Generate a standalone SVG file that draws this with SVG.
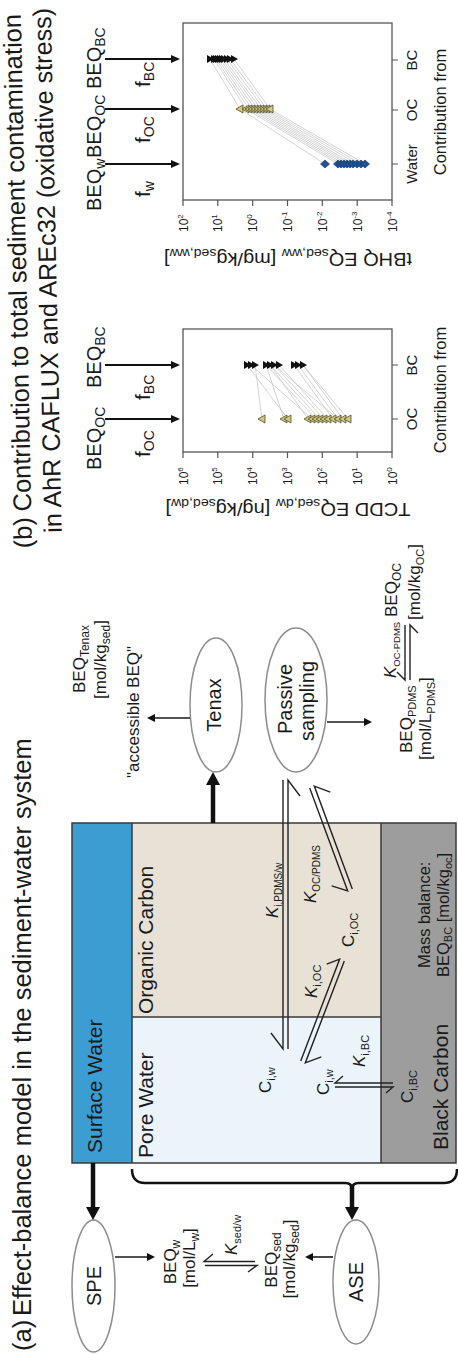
<svg xmlns="http://www.w3.org/2000/svg" width="458" height="1354" viewBox="0 0 458 1354">
<style>
text{font-family:"Liberation Sans",Arial,sans-serif;fill:#1a1a1a}
.ttl{font-size:25.5px}
.lbl{font-size:21px}
.an{font-size:17px}
.tk{font-size:12px}
.it{font-style:italic}
.thin{stroke:#1a1a1a;stroke-width:1.6;fill:none}
.thick{stroke:#111;stroke-width:4.5;fill:none}
.pa{stroke:#111;stroke-width:2;fill:none}
.hp{stroke:#222;stroke-width:1.4;fill:none}
.ell{fill:#fff;stroke:#8c8c8c;stroke-width:1.5}
.frame{fill:#fff;stroke:#555;stroke-width:1.3}
.tick{stroke:#555;stroke-width:1.2}
.gl{stroke:#c2c2c2;stroke-width:0.7;fill:none}
.hd{fill:#111}
.bd{stroke:#3a3a3a;stroke-width:1.5;fill:none}
</style>
<defs>
<path id="dm" d="M0,-4.5 L4,0 L0,4.5 L-4,0 Z" fill="#1f5394" stroke="#0f2f5a" stroke-width="0.6"/>
<path id="tu" d="M0,-4 L4,3 L-4,3 Z" fill="#d3c97c" stroke="#3b3a22" stroke-width="0.7"/>
<path id="td" d="M0,4 L4,-3 L-4,-3 Z" fill="#111"/>
</defs>
<g transform="translate(0,1354) rotate(-90)">

<g id="title-a">
<text class="ttl" x="3" y="31">(a)</text>
<text class="ttl" x="38" y="31">Effect-balance model in the sediment-water system</text>
</g>

<g id="box">
<rect x="191" y="72" width="340" height="60" fill="#3c9dd3"/>
<rect x="191" y="132" width="146" height="249" fill="#eaf4fa"/>
<rect x="337" y="132" width="194" height="249" fill="#e7e2d5"/>
<rect x="191" y="381" width="340" height="75" fill="#9d9d9d"/>
<rect class="bd" x="191" y="72" width="340" height="384"/>
<path class="bd" d="M191,132 L531,132 M191,381 L531,381 M337,132 L337,381"/>
<text class="lbl" x="201" y="102">Surface Water</text>
<text class="lbl" x="196" y="153">Pore Water</text>
<text class="lbl" x="340" y="153">Organic Carbon</text>
<text class="lbl" x="204" y="448">Black Carbon</text>
<text font-size="16.5" x="386" y="430">Mass balance:</text>
<text font-size="16.5" x="377" y="449">BEQ<tspan dy="3" font-size="11">BC</tspan><tspan dy="-3"> [mol/kg</tspan><tspan dy="3" font-size="11">oc</tspan><tspan dy="-3">]</tspan></text>
<text class="an" x="261" y="271">C<tspan dy="4" font-size="11">i,w</tspan></text>
<text class="an" x="259" y="329">C<tspan dy="4" font-size="11">i,w</tspan></text>
<text class="an" x="407" y="354">C<tspan dy="4" font-size="11">i,OC</tspan></text>
<text class="an" x="251" y="413">C<tspan dy="4" font-size="11">i,BC</tspan></text>
<text class="an" x="356" y="317"><tspan class="it">K</tspan><tspan dy="4" font-size="11">i,OC</tspan></text>
<text class="an" x="287" y="365"><tspan class="it">K</tspan><tspan dy="4" font-size="11">i,BC</tspan></text>
<text class="an" x="436" y="278"><tspan class="it">K</tspan><tspan dy="4" font-size="10">i,PDMS/w</tspan></text>
<text class="an" x="451" y="316"><tspan class="it">K</tspan><tspan dy="4" font-size="10">OC/PDMS</tspan></text>
</g>

<g id="spe">
<ellipse class="ell" cx="68" cy="93.5" rx="66" ry="21.5"/>
<text font-size="20" x="68" y="100.5" text-anchor="middle">SPE</text>
</g>
<g id="ase">
<ellipse class="ell" cx="72" cy="356" rx="62" ry="23"/>
<text font-size="20" x="72" y="363" text-anchor="middle">ASE</text>
</g>
<g id="tenax">
<ellipse class="ell" cx="649" cy="216" rx="67" ry="26"/>
<text font-size="20" x="649" y="221" text-anchor="middle">Tenax</text>
</g>
<g id="passive">
<ellipse class="ell" cx="654" cy="296" rx="72" ry="31"/>
<text font-size="20" x="655" y="292" text-anchor="middle">Passive</text>
<text font-size="20" x="653" y="314" text-anchor="middle">sampling</text>
</g>

<g id="labels-a">
<text class="an" x="92" y="176" text-anchor="middle">BEQ<tspan dy="4" font-size="12">w</tspan></text>
<text class="an" x="96" y="195" text-anchor="middle">[mol/L<tspan dy="4" font-size="12">w</tspan><tspan dy="-4">]</tspan></text>
<text class="an" x="94" y="277" text-anchor="middle">BEQ<tspan dy="4" font-size="12">sed</tspan></text>
<text class="an" x="95" y="295" text-anchor="middle">[mol/kg<tspan dy="4" font-size="12">sed</tspan><tspan dy="-4">]</tspan></text>
<text class="an" x="99" y="237"><tspan class="it">K</tspan><tspan dy="4" font-size="11">sed/w</tspan></text>
<text class="an" x="661" y="85">BEQ<tspan dy="4" font-size="12">Tenax</tspan></text>
<text class="an" x="655" y="106">[mol/kg<tspan dy="4" font-size="12">sed</tspan><tspan dy="-4">]</tspan></text>
<text class="an" x="642" y="139" text-anchor="middle">"accessible BEQ"</text>
<text class="an" x="601" y="412">BEQ<tspan dy="4" font-size="11">PDMS</tspan></text>
<text class="an" x="594" y="431">[mol/L<tspan dy="4" font-size="11">PDMS</tspan><tspan dy="-4">]</tspan></text>
<text class="an" x="676" y="396"><tspan class="it">K</tspan><tspan dy="4" font-size="9.5">OC-PDMS</tspan></text>
<text class="an" x="737" y="397">BEQ<tspan dy="4" font-size="12">OC</tspan></text>
<text class="an" x="734" y="420">[mol/kg<tspan dy="4" font-size="11">OC</tspan><tspan dy="-4">]</tspan></text>
</g>

<g id="connectors">
<path class="thick" d="M191,93 L146,93"/><path class="hd" d="M134,93 L147,86 L147,100 Z"/>
<path d="M185,132 Q171,132 171,145 L171,345 Q171,352 165,352 Q171,352 171,359 L171,444 Q171,457 185,457" stroke="#111" stroke-width="2.5" fill="none"/>
<path class="thick" d="M169,352 L146,352"/><path class="hd" d="M134,352 L147,345 L147,359 Z"/>
<path class="thick" d="M531,213 L570,213"/><path class="hd" d="M582,213 L569,206 L569,220 Z"/>
<path class="thin" d="M97,115 L97,148"/><path class="hd" d="M97,155 L93,147 L101,147 Z"/>
<path class="thin" d="M97,333 L97,312"/><path class="hd" d="M97,305 L93,313 L101,313 Z"/>
<path class="thin" d="M636,190 L636,154"/><path class="hd" d="M636,147 L632,155 L640,155 Z"/>
<path class="thin" d="M632,327 L632,365"/><path class="hd" d="M632,372 L628,364 L636,364 Z"/>
<path class="hp" d="M92.5,255 L92.5,204 L100,213"/>
<path class="hp" d="M88.5,205 L88.5,257 L82,248"/>
<path class="hp" d="M729,405 L674,405 L682,397"/>
<path class="hp" d="M674,410 L729,410 L721,418"/>
<path class="hp" d="M574,283 L305,283 L321,271"/>
<path class="hp" d="M305,288 L574,288 L558,300"/>
<path class="hp" d="M464.9,352.3 L567.9,314.3 l-6,16"/>
<path class="hp" d="M566.1,309.7 L463.1,347.7 l5,-16"/>
<path class="hp" d="M292.9,300.7 L394.9,339.7 l-5,-13"/>
<path class="hp" d="M393.1,344.3 L291.1,305.3 l6,16"/>
<path class="hp" d="M271,393 L271,335 L278,343"/>
<path class="hp" d="M267,335 L267,393 L261,386"/>
<path class="pa" d="M935,105 L935,172"/><path class="hd" d="M935,180 L931,171 L939,171 Z"/>
<path class="pa" d="M989,105 L989,172"/><path class="hd" d="M989,180 L985,171 L993,171 Z"/>
<path class="pa" d="M1190,105 L1190,172"/><path class="hd" d="M1190,180 L1186,171 L1194,171 Z"/>
<path class="pa" d="M1245,105 L1245,172"/><path class="hd" d="M1245,180 L1241,171 L1249,171 Z"/>
<path class="pa" d="M1295,105 L1295,172"/><path class="hd" d="M1295,180 L1291,171 L1299,171 Z"/>
</g>

<g id="title-b" transform="rotate(-1.2 806 45)">
<text class="ttl" x="806" y="32">(b)</text>
<text class="ttl" x="843" y="32">Contribution to total sediment contamination</text>
<text font-size="25.2" x="821" y="62">in AhR CAFLUX and AREc32 (oxidative stress)</text>
</g>

<g id="plot-tcdd">
<text font-size="20" x="884" y="101">BEQ<tspan dy="4" font-size="14">OC</tspan></text>
<text font-size="20" x="966" y="101">BEQ<tspan dy="4" font-size="14">BC</tspan></text>
<text font-size="21" x="897" y="150">f<tspan dy="4" font-size="14">OC</tspan></text>
<text font-size="21" x="954" y="150">f<tspan dy="4" font-size="14">BC</tspan></text>
<rect class="frame" x="902" y="183" width="123" height="209"/>
<path class="tick" d="M896,183 H902 M896,217.8 H902 M896,252.7 H902 M896,287.5 H902 M896,322.3 H902 M896,357.2 H902 M896,392 H902 M935,392 V398 M989,392 V398"/>
<text class="tk" x="869" y="187.5">10<tspan dy="-5" font-size="8">6</tspan></text>
<text class="tk" x="869" y="222.3">10<tspan dy="-5" font-size="8">5</tspan></text>
<text class="tk" x="869" y="257.2">10<tspan dy="-5" font-size="8">4</tspan></text>
<text class="tk" x="869" y="292">10<tspan dy="-5" font-size="8">3</tspan></text>
<text class="tk" x="869" y="326.8">10<tspan dy="-5" font-size="8">2</tspan></text>
<text class="tk" x="869" y="361.7">10<tspan dy="-5" font-size="8">1</tspan></text>
<text class="tk" x="869" y="396.5">10<tspan dy="-5" font-size="8">0</tspan></text>
<text transform="translate(851,288) rotate(-90)" text-anchor="middle" font-size="18.5" textLength="245" lengthAdjust="spacingAndGlyphs">TCDD EQ<tspan dy="4" font-size="13">sed,dw</tspan><tspan dy="-4"> [ng/kg</tspan><tspan dy="4" font-size="13">sed,dw</tspan><tspan dy="-4">]</tspan></text>
<path class="gl" d="M989,247 L935,288 M989,251 L935,312 M989,255 L935,262 M989,266 L935,284 M989,266 L935,316 M989,270 L935,320 M989,274 L935,324 M989,279 L935,328 M989,294 L935,333 M989,298 L935,338 M989,303 L935,343 M989,303 L935,348 M989,270 L935,308 M989,274 L935,338"/>
<use href="#tu" x="935" y="262"/><use href="#tu" x="935" y="284"/><use href="#tu" x="935" y="288"/>
<use href="#tu" x="935" y="308"/><use href="#tu" x="935" y="312"/><use href="#tu" x="935" y="316"/>
<use href="#tu" x="935" y="320"/><use href="#tu" x="935" y="324"/><use href="#tu" x="935" y="328"/>
<use href="#tu" x="935" y="333"/><use href="#tu" x="935" y="338"/><use href="#tu" x="935" y="343"/><use href="#tu" x="935" y="348"/>
<use href="#td" x="989" y="247"/><use href="#td" x="989" y="251"/><use href="#td" x="989" y="255"/>
<use href="#td" x="989" y="266"/><use href="#td" x="989" y="270"/><use href="#td" x="989" y="274"/><use href="#td" x="989" y="279"/>
<use href="#td" x="989" y="294"/><use href="#td" x="989" y="298"/><use href="#td" x="989" y="303"/>
<text font-size="15" x="935" y="417" text-anchor="middle">OC</text>
<text font-size="15" x="989" y="417" text-anchor="middle">BC</text>
<text font-size="16.5" x="964" y="446" text-anchor="middle">Contribution from</text>
</g>

<g id="plot-tbhq">
<text font-size="20" x="1143" y="101">BEQ<tspan dy="4" font-size="14">w</tspan></text>
<text font-size="20" x="1196" y="101">BEQ<tspan dy="4" font-size="14">OC</tspan></text>
<text font-size="20" x="1265" y="101">BEQ<tspan dy="4" font-size="14">BC</tspan></text>
<text font-size="21" x="1157" y="150">f<tspan dy="4" font-size="14">w</tspan></text>
<text font-size="21" x="1211" y="150">f<tspan dy="4" font-size="14">OC</tspan></text>
<text font-size="21" x="1267" y="150">f<tspan dy="4" font-size="14">BC</tspan></text>
<rect class="frame" x="1154" y="183" width="177" height="209"/>
<path class="tick" d="M1148,183 H1154 M1148,217.8 H1154 M1148,252.7 H1154 M1148,287.5 H1154 M1148,322.3 H1154 M1148,357.2 H1154 M1148,392 H1154 M1190,392 V398 M1244,392 V398 M1294,392 V398"/>
<text class="tk" x="1122" y="187.5">10<tspan dy="-5" font-size="8">2</tspan></text>
<text class="tk" x="1122" y="222.3">10<tspan dy="-5" font-size="8">1</tspan></text>
<text class="tk" x="1122" y="257.2">10<tspan dy="-5" font-size="8">0</tspan></text>
<text class="tk" x="1122" y="292">10<tspan dy="-5" font-size="8">-1</tspan></text>
<text class="tk" x="1122" y="326.8">10<tspan dy="-5" font-size="8">-2</tspan></text>
<text class="tk" x="1122" y="361.7">10<tspan dy="-5" font-size="8">-3</tspan></text>
<text class="tk" x="1122" y="396.5">10<tspan dy="-5" font-size="8">-4</tspan></text>
<text transform="translate(1101,288) rotate(-90)" text-anchor="middle" font-size="18.5" textLength="248" lengthAdjust="spacingAndGlyphs">tBHQ EQ<tspan dy="4" font-size="13">sed,ww</tspan><tspan dy="-4"> [mg/kg</tspan><tspan dy="4" font-size="13">sed,ww</tspan><tspan dy="-4">]</tspan></text>
<path class="gl" d="M1190,325 L1245,240 L1295,210 M1190,338 L1245,246 L1295,214 M1190,341 L1245,249 L1295,216 M1190,344 L1245,252 L1295,218 M1190,347 L1245,255 L1295,220 M1190,350 L1245,258 L1295,222 M1190,353 L1245,261 L1295,224 M1190,357 L1245,264 L1295,227 M1190,361 L1245,267 L1295,230 M1190,365 L1245,270 L1295,234"/>
<use href="#dm" x="1190" y="325"/><use href="#dm" x="1190" y="338"/><use href="#dm" x="1190" y="341"/>
<use href="#dm" x="1190" y="344"/><use href="#dm" x="1190" y="347"/><use href="#dm" x="1190" y="350"/>
<use href="#dm" x="1190" y="353"/><use href="#dm" x="1190" y="357"/><use href="#dm" x="1190" y="361"/><use href="#dm" x="1190" y="365"/>
<use href="#tu" x="1245" y="240"/><use href="#tu" x="1245" y="246"/><use href="#tu" x="1245" y="249"/>
<use href="#tu" x="1245" y="252"/><use href="#tu" x="1245" y="255"/><use href="#tu" x="1245" y="258"/>
<use href="#tu" x="1245" y="261"/><use href="#tu" x="1245" y="264"/><use href="#tu" x="1245" y="267"/><use href="#tu" x="1245" y="270"/>
<use href="#td" x="1295" y="210"/><use href="#td" x="1295" y="214"/><use href="#td" x="1295" y="216"/>
<use href="#td" x="1295" y="218"/><use href="#td" x="1295" y="220"/><use href="#td" x="1295" y="222"/>
<use href="#td" x="1295" y="224"/><use href="#td" x="1295" y="227"/><use href="#td" x="1295" y="230"/><use href="#td" x="1295" y="234"/>
<text font-size="15" x="1190" y="417" text-anchor="middle">Water</text>
<text font-size="15" x="1244" y="417" text-anchor="middle">OC</text>
<text font-size="15" x="1294" y="417" text-anchor="middle">BC</text>
<text font-size="16.5" x="1242" y="446" text-anchor="middle">Contribution from</text>
</g>

</g>
</svg>
